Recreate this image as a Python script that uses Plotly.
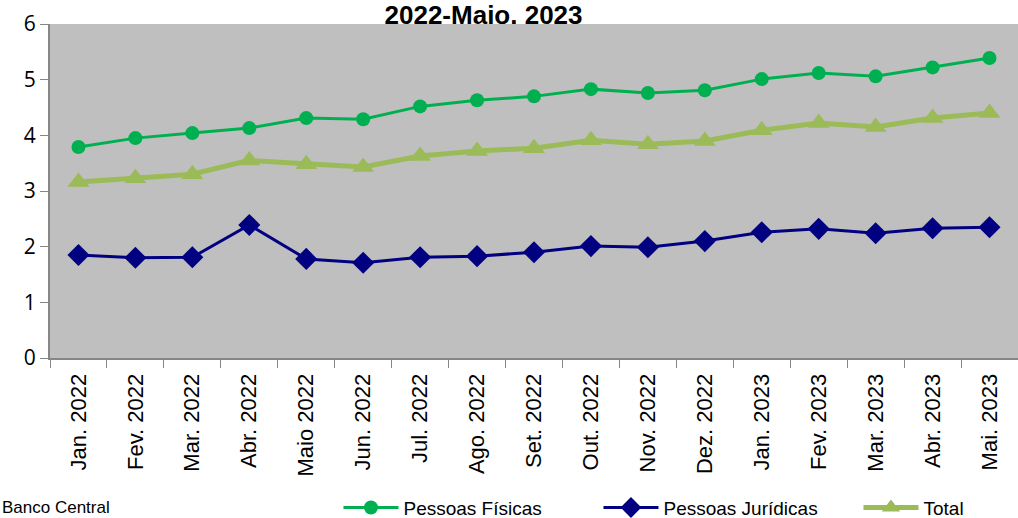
import plotly.graph_objects as go

months = [
    "Jan. 2022", "Fev. 2022", "Mar. 2022", "Abr. 2022", "Maio 2022", "Jun. 2022",
    "Jul. 2022", "Ago. 2022", "Set. 2022", "Out. 2022", "Nov. 2022", "Dez. 2022",
    "Jan. 2023", "Fev. 2023", "Mar. 2023", "Abr. 2023", "Mai. 2023",
]
pessoas_fisicas = [3.79, 3.95, 4.04, 4.13, 4.31, 4.29, 4.52, 4.63, 4.70,
                   4.83, 4.76, 4.81, 5.01, 5.12, 5.06, 5.22, 5.39]
pessoas_juridicas = [1.85, 1.80, 1.81, 2.39, 1.78, 1.71, 1.81, 1.83, 1.90,
                     2.01, 1.99, 2.10, 2.26, 2.32, 2.24, 2.33, 2.35]
total = [3.16, 3.23, 3.30, 3.55, 3.48, 3.43, 3.63, 3.72, 3.77,
         3.91, 3.84, 3.90, 4.09, 4.22, 4.15, 4.31, 4.40]

fig = go.Figure()
fig.add_trace(go.Scatter(
    x=months, y=pessoas_fisicas, name="Pessoas Físicas", mode="lines+markers",
    line=dict(color="#00B050", width=3),
    marker=dict(symbol="circle", size=14, color="#00B050"),
))
fig.add_trace(go.Scatter(
    x=months, y=pessoas_juridicas, name="Pessoas Jurídicas", mode="lines+markers",
    line=dict(color="#000080", width=3),
    marker=dict(symbol="diamond", size=17, color="#000080"),
))
fig.add_trace(go.Scatter(
    x=months, y=total, name="Total", mode="lines+markers",
    line=dict(color="#9BBB59", width=5),
    marker=dict(symbol="triangle-up", size=19, color="#9BBB59"),
))

fig.update_layout(
    width=1018,
    height=518,
    margin=dict(l=50, r=0, t=24, b=160, autoexpand=False),
    paper_bgcolor="white",
    plot_bgcolor="#BFBFBF",
    font=dict(family="Liberation Sans, Arial", color="black"),
    title=dict(
        text="<b>2022-Maio. 2023</b>",
        x=0.475, xanchor="center", y=0.971, yanchor="middle",
        font=dict(size=26, family="Liberation Sans, Arial"),
    ),
    legend=dict(
        orientation="h", x=0.298, xanchor="left", y=-0.448, yanchor="middle",
        font=dict(size=19, family="Liberation Sans Narrow, Arial Narrow, Liberation Sans"),
        bgcolor="rgba(0,0,0,0)", itemwidth=55,
        entrywidth=190, entrywidthmode="pixels",
    ),
    annotations=[
        dict(text="Banco Central", x=0, y=0, xref="paper", yref="paper",
             xanchor="left", yanchor="bottom", yshift=-161, xshift=-50,
             showarrow=False, font=dict(size=17)),
    ],
)
fig.update_xaxes(
    range=[-0.5, len(months) - 0.5],
    showgrid=False, tickangle=-90, tickson="boundaries", automargin=False,
    ticks="outside", ticklen=8, tickcolor="#868686", ticklabelstandoff=5,
    showline=True, linecolor="#868686", linewidth=2,
    tickfont=dict(size=22, family="Liberation Sans, Arial"),
)
fig.update_yaxes(
    range=[0, 6], dtick=1, showgrid=False, zeroline=False, automargin=False,
    ticks="outside", ticklen=8, tickcolor="#868686",
    showline=True, linecolor="#868686", linewidth=2,
    tickfont=dict(size=21, family="Open Sans, Noto Sans"),
)

fig.write_html(
    "out.html",
    config={"displayModeBar": False},
    post_script="document.body.style.margin='0';document.body.style.overflow='hidden';",
)
